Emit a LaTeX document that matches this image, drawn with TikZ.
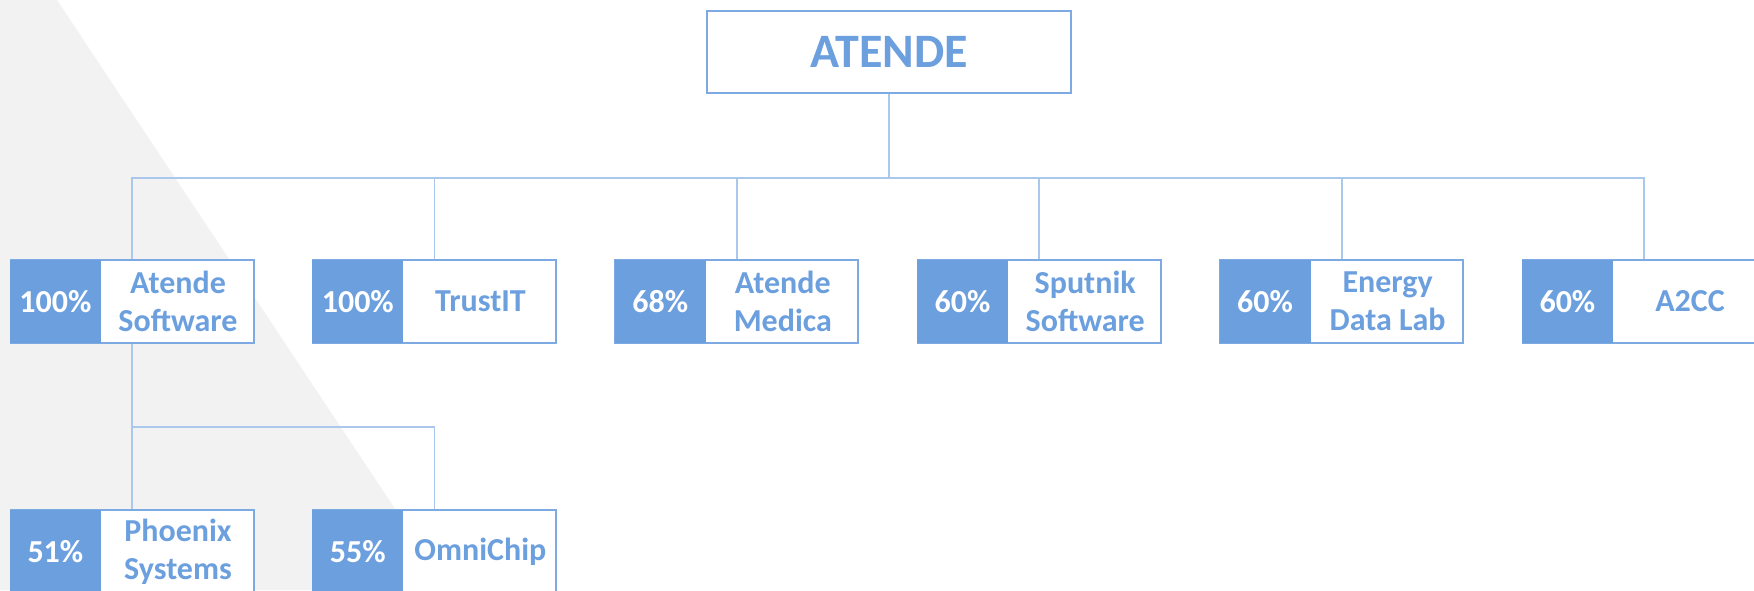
\documentclass[tikz,border=0pt]{standalone}
\usepackage{fontspec}
\setmainfont{Carlito}
\definecolor{shareblue}{RGB}{108, 159, 222}
\definecolor{frameblue}{RGB}{125, 170, 226}
\definecolor{linkblue}{RGB}{170, 199, 236}
\definecolor{backgrey}{RGB}{242, 242, 242}
\usetikzlibrary{positioning, calc}

\begin{document}
\begin{tikzpicture}[x=0.5pt, y=-0.5pt,
  firm/.style={draw=frameblue, line width=1pt, fill=white, minimum width=121.5pt, minimum height=41.5pt, inner sep=0pt},
  share/.style={fill=shareblue, text=white, minimum width=45.5pt, minimum height=41.5pt, inner sep=0pt, font=\bfseries\fontsize{16}{19}\selectfont},
  firmname/.style={text=shareblue, align=center, inner sep=0pt, font=\bfseries\fontsize{16}{19}\selectfont},
  link/.style={linkblue, line width=0.9pt}]
  \useasboundingbox (0, 0) rectangle (1754, 590);

  % Background wedge
  \fill[backgrey] (0, 0) -- (57, 0) -- (449, 590) -- (0, 590) -- cycle;

  % Parent
  \node[firm, minimum width=182pt, minimum height=41pt, text=shareblue, font=\bfseries\fontsize{24}{28}\selectfont] (atende) at (889, 52) {ATENDE};
  \coordinate (bus) at (889, 178);
  \coordinate (subbus) at (132, 427);

  % Subsidiaries
  \foreach \id/\x/\pct/\name in {sw/132/100/{Atende\\Software}, trust/434.4/100/TrustIT,
      medica/736.8/68/{Atende\\Medica}, sputnik/1039.2/60/{Sputnik\\Software},
      edl/1341.6/60/{Energy\\Data Lab}, atcc/1644/60/A2CC} {
    \draw[link] (atende.south) -- (atende.south |- bus) -| (\x, 260);
    \node[firm] (\id) at (\x, 301.5) {};
    \node[share, anchor=west] (\id-pct) at (\id.west) {\pct\%};
    \node[firmname] (\id-name) at ([xshift=23pt]\id.center) {\name};
  }

  % Second level under Atende Software
  \node[firm] (phx) at (132, 551.5) {};
  \node[share, anchor=west] (phx-pct) at (phx.west) {51\%};
  \node[firmname] (phx-name) at ([xshift=23pt]phx.center) {Phoenix\\Systems};
  \node[firm] (omni) at (434.4, 551.5) {};
  \node[share, anchor=west] (omni-pct) at (omni.west) {55\%};
  \node[firmname] (omni-name) at ([xshift=23pt]omni.center) {OmniChip};

  \draw[link] (sw.south) -- (phx.north);
  \draw[link] (sw.south |- subbus) -| (omni.north);
\end{tikzpicture}
\end{document}
